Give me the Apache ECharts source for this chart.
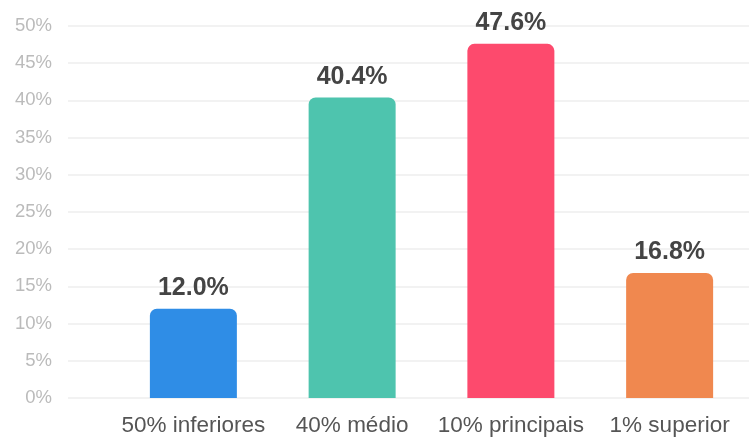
<!DOCTYPE html>
<html><head><meta charset="utf-8">
<script src="https://cdn.jsdelivr.net/npm/echarts@6/dist/echarts.min.js"></script>
<style>html,body{margin:0;padding:0;background:#fff}#c{width:749px;height:439px}</style>
</head><body><div id="c"></div>
<script>
const categories = ['50% inferiores', '40% médio', '10% principais', '1% superior'];
const values = [12.0, 40.4, 47.6, 16.8];
const colors = ['#2f8de6', '#4ec4ae', '#fd4a6d', '#f0884f'];
const yTicks = { min: 0, max: 50, interval: 5 };

const chart = echarts.init(document.getElementById('c'));
chart.setOption({
  animation: false,
  grid: [
    { left: 68, right: 0, top: 26, bottom: 41 },
    { left: 114, right: 0, top: 26, bottom: 41 }
  ],
  xAxis: [
    { gridIndex: 0, type: 'category', data: [''], show: false },
    { gridIndex: 1, type: 'category', data: categories,
      axisLine: { show: false }, axisTick: { show: false },
      axisLabel: { interval: 0, hideOverlap: false, color: '#555', fontSize: 22.5, margin: 16, fontFamily: 'Liberation Sans, Arial, sans-serif' } }
  ],
  yAxis: [
    { gridIndex: 0, type: 'value', min: yTicks.min, max: yTicks.max, interval: yTicks.interval,
      axisLine: { show: false }, axisTick: { show: false },
      axisLabel: { formatter: '{value}%', color: '#bbb', fontSize: 18.5, margin: 16, fontFamily: 'Liberation Sans, Arial, sans-serif' },
      splitLine: { lineStyle: { color: '#eeeeee', width: 1.5 } } },
    { gridIndex: 1, type: 'value', min: yTicks.min, max: yTicks.max, interval: yTicks.interval, show: false }
  ],
  series: [{
    type: 'bar',
    xAxisIndex: 1, yAxisIndex: 1,
    barWidth: 87,
    data: values.map((v, i) => ({ value: v, itemStyle: { color: colors[i], borderRadius: [7, 7, 0, 0] } })),
    label: {
      show: true, position: 'top', distance: 8,
      formatter: p => p.value.toFixed(1) + '%',
      color: '#444', fontSize: 25, fontWeight: 'bold', fontFamily: 'Liberation Sans, Arial, sans-serif'
    }
  }]
});
</script></body></html>
